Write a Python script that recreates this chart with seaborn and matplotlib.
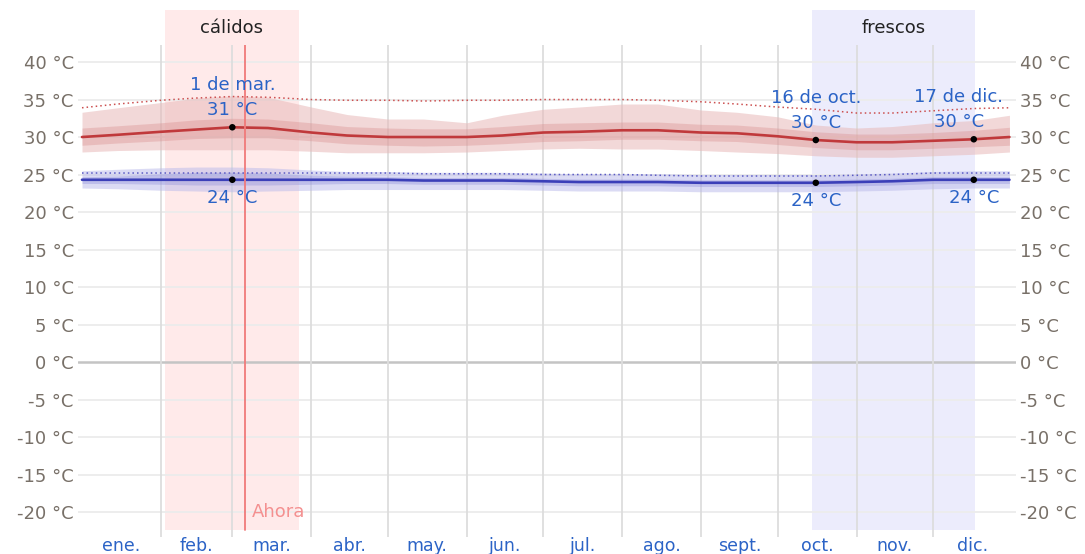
import numpy as np
import pandas as pd
import matplotlib
matplotlib.use("Agg")
import matplotlib.pyplot as plt
import seaborn as sns

# Day-of-year sample positions (0 = 1 Jan)
days = [0, 14, 31, 45, 59, 73, 90, 104, 120, 134, 151, 165, 181, 195, 212, 226,
        243, 257, 273, 288, 304, 318, 334, 350, 364]

# Daily high temperature (°C): mean, percentile bands and perceived
high_mean = [30.0, 30.3, 30.7, 31.0, 31.3, 31.2, 30.6, 30.2, 30.0, 30.0, 30.0, 30.2,
             30.6, 30.7, 30.9, 30.9, 30.6, 30.5, 30.1, 29.6, 29.3, 29.3, 29.5, 29.7, 30.0]
high_p75 = [31.2, 31.5, 31.9, 32.3, 32.5, 32.4, 31.9, 31.4, 31.2, 31.1, 31.1, 31.4,
            31.8, 31.9, 32.0, 32.0, 31.7, 31.6, 31.2, 30.7, 30.4, 30.4, 30.6, 30.9, 31.3]
high_p25 = [28.9, 29.2, 29.5, 29.8, 29.9, 29.9, 29.5, 29.1, 28.9, 28.8, 28.9, 29.1,
            29.4, 29.5, 29.7, 29.7, 29.5, 29.4, 29.0, 28.6, 28.3, 28.3, 28.5, 28.7, 28.9]
high_p90 = [33.3, 33.9, 34.6, 35.2, 35.5, 35.3, 34.0, 33.0, 32.4, 32.4, 31.9, 32.9,
            33.7, 34.0, 34.4, 34.4, 33.6, 33.3, 32.7, 31.6, 31.2, 31.4, 31.9, 32.2, 32.9]
high_p10 = [28.0, 28.2, 28.3, 28.3, 28.3, 28.3, 28.1, 27.9, 27.9, 27.9, 28.0, 28.2,
            28.4, 28.5, 28.4, 28.4, 28.2, 28.0, 27.8, 27.5, 27.3, 27.3, 27.5, 27.7, 28.0]
high_feel = [33.9, 34.4, 34.9, 35.2, 35.4, 35.3, 35.0, 34.9, 34.9, 34.8, 34.9, 34.9,
             35.0, 35.0, 35.0, 34.9, 34.7, 34.4, 34.0, 33.7, 33.2, 33.2, 33.5, 33.8, 33.9]

# Daily low temperature (°C)
low_mean = [24.3, 24.3, 24.3, 24.3, 24.3, 24.3, 24.3, 24.3, 24.3, 24.2, 24.2, 24.2,
            24.1, 24.0, 24.0, 24.0, 23.9, 23.9, 23.9, 23.9, 24.0, 24.1, 24.3, 24.3, 24.3]
low_p75 = [24.7, 24.8, 25.1, 25.3, 25.3, 25.2, 24.9, 24.8, 24.7, 24.6, 24.6, 24.6,
           24.5, 24.4, 24.4, 24.4, 24.3, 24.3, 24.3, 24.3, 24.4, 24.5, 24.7, 24.7, 24.7]
low_p25 = [23.8, 23.8, 23.7, 23.6, 23.6, 23.6, 23.7, 23.8, 23.8, 23.7, 23.7, 23.7,
           23.6, 23.5, 23.5, 23.5, 23.4, 23.4, 23.4, 23.4, 23.5, 23.6, 23.8, 23.8, 23.8]
low_p90 = [25.5, 25.7, 25.9, 26.0, 26.0, 25.9, 25.6, 25.4, 25.4, 25.3, 25.3, 25.3,
           25.2, 25.1, 25.1, 25.1, 25.0, 25.0, 25.0, 25.0, 25.1, 25.2, 25.4, 25.5, 25.5]
low_p10 = [23.2, 23.1, 22.9, 22.8, 22.7, 22.8, 22.9, 23.0, 23.0, 23.0, 23.0, 23.0,
           22.9, 22.8, 22.8, 22.8, 22.7, 22.7, 22.7, 22.7, 22.8, 22.9, 23.1, 23.2, 23.2]
low_feel = [25.2, 25.2, 25.2, 25.2, 25.2, 25.2, 25.2, 25.2, 25.2, 25.1, 25.1, 25.1,
            25.0, 25.0, 25.0, 24.9, 24.8, 24.8, 24.8, 24.8, 24.9, 25.0, 25.2, 25.2, 25.2]

# Calendar
month_starts = [0, 31, 59, 90, 120, 151, 181, 212, 243, 273, 304, 334, 365]
month_labels = ["ene.", "feb.", "mar.", "abr.", "may.", "jun.", "jul.", "ago.",
                "sept.", "oct.", "nov.", "dic."]
ytick_values = list(range(-20, 45, 5))

# Seasons and highlighted days
warm_season = (32.4, 85.0)
cool_season = (286.5, 350.5)
today = 64
marked_days = [59, 288, 350]
marked_names = ["1 de mar.", "16 de oct.", "17 de dic."]
marked_high = [31.3, 29.6, 29.7]
marked_low = [24.3, 23.9, 24.3]
label_shift = [0, 0, -15]

df = pd.DataFrame({"day": days, "high": high_mean, "low": low_mean,
                   "high_feel": high_feel, "low_feel": low_feel})
pts = pd.DataFrame({"day": marked_days * 2, "temp": marked_high + marked_low})

sns.set_theme(style="white")
plt.rcParams["font.family"] = ["DejaVu Sans"]

fig = plt.figure(figsize=(10.85, 5.54), dpi=100)
ax = fig.add_axes([78 / 1085, 1 - 537 / 554, (1016 - 78) / 1085, 492 / 554])
ax.set_xlim(-1.57, 366.57)
ax.set_ylim(-23.33, 42.27)

blue_txt = "#2b63c6"
grey_txt = "#787068"
fs = 13

# Season spans reaching above the plot area
for (a, b), col, name in [(warm_season, "#ffeaea", "cálidos"),
                           (cool_season, "#ececfc", "frescos")]:
    ax.axvspan(a, b, ymin=0.0142, ymax=1.0711, color=col, zorder=0,
               clip_on=False, lw=0)
    ax.text((a + b) / 2, 1.0346, name, transform=ax.get_xaxis_transform(),
            ha="center", va="center", fontsize=fs, color="#222222")

# Grid
for v in ytick_values:
    ax.axhline(v, color="#c4c4c4" if v == 0 else "#ececec",
               lw=1.8 if v == 0 else 1.3, zorder=1)
for d in month_starts[1:-1]:
    ax.axvline(d, color="#dddddd", lw=1.3, zorder=1)

# Percentile bands
red = "#c0393b"
blue = "#3b3fb8"
ax.fill_between(days, high_p10, high_p90, color="#e8b9b9", alpha=0.55, lw=0, zorder=2)
ax.fill_between(days, high_p25, high_p75, color="#d88a8a", alpha=0.35, lw=0, zorder=2)
ax.fill_between(days, low_p10, low_p90, color="#b9b9ea", alpha=0.5, lw=0, zorder=2)
ax.fill_between(days, low_p25, low_p75, color="#8a8ad8", alpha=0.35, lw=0, zorder=2)

# Mean and perceived lines
sns.lineplot(data=df, x="day", y="high", ax=ax, color=red, lw=1.9, zorder=3)
sns.lineplot(data=df, x="day", y="low", ax=ax, color=blue, lw=1.9, zorder=3)
sns.lineplot(data=df, x="day", y="high_feel", ax=ax, color="#cc5050", lw=1.1,
             linestyle=(0, (1, 2)), zorder=3)
sns.lineplot(data=df, x="day", y="low_feel", ax=ax, color="#5a5ac4", lw=1.1,
             linestyle=(0, (1, 2)), zorder=3)

# Current date
ax.axvline(today, ymin=0.0142, ymax=1.0, color="#f07a7a", lw=1.3, zorder=4)
ax.text(today + 2.5, -20, "Ahora", color="#f49090", fontsize=fs,
        ha="left", va="center", zorder=5)

# Marked days
sns.scatterplot(data=pts, x="day", y="temp", ax=ax, color="black", s=22,
                edgecolor="none", zorder=6)
for d, name, hi, lo, sh in zip(marked_days, marked_names, marked_high,
                                marked_low, label_shift):
    ax.annotate(name, (d, hi), xytext=(sh, 42), textcoords="offset pixels",
                ha="center", va="center", fontsize=fs, color=blue_txt, zorder=7)
    ax.annotate(f"{round(hi)} °C", (d, hi), xytext=(sh, 17), textcoords="offset pixels",
                ha="center", va="center", fontsize=fs, color=blue_txt, zorder=7)
    ax.annotate(f"{round(lo)} °C", (d, lo), xytext=(0, -18), textcoords="offset pixels",
                ha="center", va="center", fontsize=fs, color=blue_txt, zorder=7)

# Axes
centers = [(a + b) / 2 for a, b in zip(month_starts[:-1], month_starts[1:])]
ax.set_xticks(centers)
ax.set_xticklabels(month_labels, color=blue_txt, fontsize=12.5)
ax.set_yticks(ytick_values)
ax.set_yticklabels([f"{v} °C" for v in ytick_values], color=grey_txt, fontsize=fs)
ax.tick_params(axis="y", which="both", length=0, pad=3, labelleft=True, labelright=True)
ax.tick_params(axis="x", length=0, pad=0)
ax.set_xlabel("")
ax.set_ylabel("")
for s in ax.spines.values():
    s.set_visible(False)
ax.patch.set_alpha(0)

fig.savefig("out.png", dpi=100)
